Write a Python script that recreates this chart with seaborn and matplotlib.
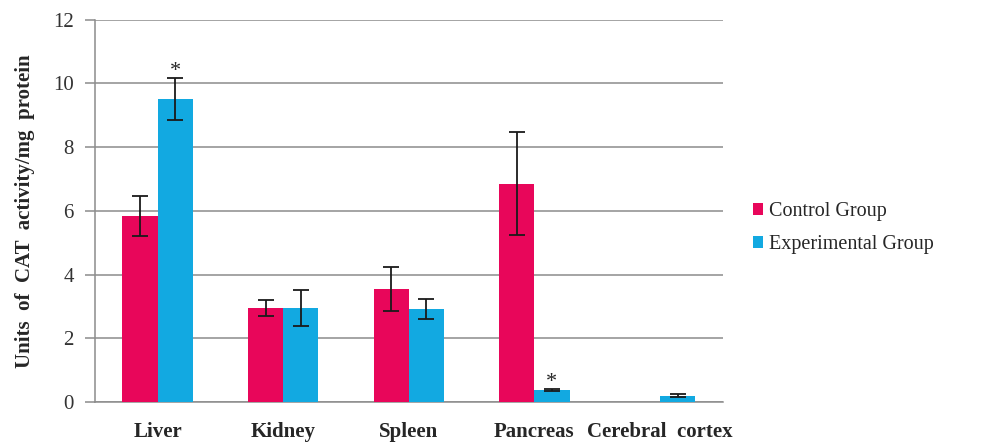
import matplotlib
matplotlib.use("Agg")
import matplotlib.pyplot as plt
import pandas as pd
import seaborn as sns

organs = ["Liver", "Kidney", "Spleen", "Pancreas", "Cerebral  cortex"]
groups = ["Control Group", "Experimental Group"]
control_mean = [5.85, 2.95, 3.55, 6.85, 0.0]
control_sd = [0.63, 0.24, 0.70, 1.62, 0.0]
exper_mean = [9.52, 2.95, 2.92, 0.38, 0.20]
exper_sd = [0.66, 0.56, 0.31, 0.03, 0.05]
significant = [True, False, False, True, False]  # asterisk on experimental bar

colors = ["#E8065A", "#12A9E1"]
grid_gray = "#8C8C8C"

df = pd.DataFrame({
    "organ": organs * 2,
    "group": [groups[0]] * len(organs) + [groups[1]] * len(organs),
    "value": control_mean + exper_mean,
})

sns.set_style("white")
plt.rcParams["font.family"] = ["Liberation Serif", "DejaVu Serif"]

fig = plt.figure(figsize=(10.08, 4.47), dpi=100)
ax = fig.add_axes([0.094, 0.1007, 0.623, 0.855])

sns.barplot(data=df, x="organ", y="value", hue="group", palette=colors,
            width=0.56, errorbar=None, saturation=1, linewidth=0, ax=ax, zorder=3)

# error bars and asterisks
for container, sds, key in zip(ax.containers, [control_sd, exper_sd], ["c", "e"]):
    for i, (bar, sd) in enumerate(zip(container, sds)):
        xc = bar.get_x() + bar.get_width() / 2
        h = bar.get_height()
        if h > 0:
            ax.errorbar(xc, h, yerr=sd, fmt="none", ecolor="#1a1a1a",
                        elinewidth=1.3, capsize=5.5, capthick=1.3, zorder=4)
        if key == "e" and significant[i]:
            ax.text(xc, h + sd - 0.1, "*", ha="center", va="bottom",
                    fontsize=16, zorder=5)

ax.set_ylim(0, 12)
ax.set_xlim(-0.5, 4.5)
ax.set_yticks(range(0, 13, 2))
ax.yaxis.grid(True, color=grid_gray, linewidth=1.1)
ax.set_axisbelow(True)
for side in ["top", "right"]:
    ax.spines[side].set_visible(False)
for side in ["left", "bottom"]:
    ax.spines[side].set_color(grid_gray)
    ax.spines[side].set_linewidth(1.1)

ax.tick_params(axis="y", left=True, length=7, width=1.1, color=grid_gray,
               labelsize=15, pad=8, labelcolor="#333333")
ax.tick_params(axis="x", bottom=False, labelsize=15, pad=11)
for lbl in ax.get_xticklabels():
    lbl.set_fontweight("bold")

ax.set_xlabel("")
ax.set_ylabel("Units  of  CAT  activity/mg  protein", fontsize=15,
              fontweight="bold", labelpad=13)

ax.legend(loc="center left", bbox_to_anchor=(1.02, 0.455), frameon=False,
          fontsize=14.5, handlelength=0.5, handleheight=0.5,
          handletextpad=0.25, labelspacing=0.7)

fig.savefig("out.png", dpi=100)
